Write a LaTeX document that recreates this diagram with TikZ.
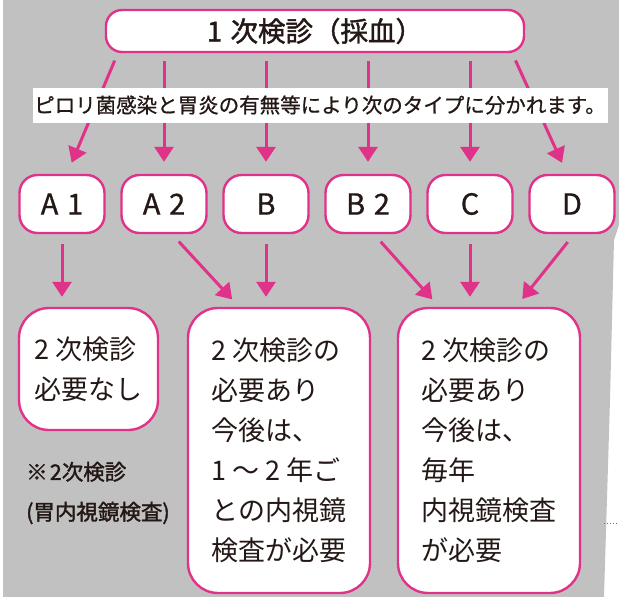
\documentclass[tikz,border=0pt]{standalone}
\usepackage{fontspec}
\setmainfont{Noto Sans CJK JP}
\newfontfamily\heavyjp[FakeBold=1.6]{Noto Sans CJK JP}
\newfontfamily\mediumjp[FakeBold=0.8]{Noto Sans CJK JP}
\usetikzlibrary{arrows.meta,positioning,shapes}
\definecolor{pinkline}{RGB}{224,50,137}
\definecolor{bggray}{RGB}{193,193,193}
\definecolor{inkbrown}{RGB}{35,24,21}

\begin{document}
\begin{tikzpicture}[x=1pt,y=-1pt,>={Triangle[width=19pt,length=15pt]},
    node distance=102pt,
    box/.style={draw=pinkline,line width=2.4pt,fill=white,rounded corners=18pt,
                text=inkbrown,inner sep=0pt},
    typebox/.style={box,minimum width=85pt,minimum height=58pt,
                    font=\mediumjp\fontsize{29}{30}\selectfont},
    resultbox/.style={box,rounded corners=30pt,align=left,
                      font=\fontsize{27}{40}\selectfont},
    arr/.style={->,draw=pinkline,line width=3pt,shorten <=8pt,shorten >=12pt}]

        % background sheet
        \useasboundingbox (0,0) rectangle (619,597);
        \fill[bggray] (3,0) -- (619,0) -- (619,225) -- (614,240) -- (610,400)
              -- (604,597) -- (3,597) -- cycle;
        \draw[pinkline,dotted,line width=1pt] (604,523) -- (619,523);

        \node[box,minimum width=418pt,minimum height=42pt,rounded corners=16pt,
              font=\heavyjp\fontsize{27.5}{28}\selectfont] (kenshin) at (315,31)
              {1\hspace{0.3em}次検診（採血）};

        \node[typebox] (a1) at (62,204) {A\hspace{0.3em}1};
        \node[typebox] (a2) [right of=a1] {A\hspace{0.3em}2};
        \node[typebox] (b)  [right of=a2] {B};
        \node[typebox] (b2) [right of=b]  {B\hspace{0.3em}2};
        \node[typebox] (c)  [right of=b2] {C};
        \node[typebox] (d)  [right of=c]  {D};

        \node[resultbox,minimum width=139pt,minimum height=122pt] (nashi)
              at (88.5,369) {2 次検診\\必要なし};
        \node[resultbox,minimum width=182pt,minimum height=285pt] (futsu)
              at (279,450.5) {2 次検診の\\必要あり\\今後は、\\1 ～ 2 年ご\\との内視鏡\\検査が必要};
        \node[resultbox,minimum width=182pt,minimum height=285pt] (maitoshi)
              at (489,450.5) {2 次検診の\\必要あり\\今後は、\\毎年\\内視鏡検査\\が必要};

        \path ([xshift=13pt]kenshin.south west) edge[arr] ([xshift=5pt]a1.north)
              (kenshin.south -| a2) edge[arr] (a2)
              (kenshin.south -| b)  edge[arr] (b)
              (kenshin.south -| b2) edge[arr] (b2)
              (kenshin.south -| c)  edge[arr] (c)
              ([xshift=-13pt]kenshin.south east) edge[arr] ([xshift=-5pt]d.north);

        \path (a1) edge[arr,shorten <=10pt,shorten >=10pt] (nashi.north -| a1)
              ([xshift=8pt]a2.south) edge[arr,shorten <=10pt,shorten >=10pt]
                    ([xshift=-40pt]futsu.north)
              (b)  edge[arr,shorten <=10pt,shorten >=10pt] (futsu.north -| b)
              ([xshift=6pt]b2.south) edge[arr,shorten <=10pt,shorten >=10pt]
                    ([xshift=-50pt]maitoshi.north)
              (c)  edge[arr,shorten <=10pt,shorten >=10pt] (maitoshi.north -| c)
              ([xshift=2pt]d.south) edge[arr,shorten <=10pt,shorten >=10pt]
                    ([xshift=27pt]maitoshi.north);

        \node[fill=white,minimum width=575pt,minimum height=35pt,inner sep=0pt,
              text=inkbrown,font=\mediumjp\fontsize{20.5}{22}\selectfont] (bunrui)
              at (320,105) {ピロリ菌感染と胃炎の有無等により次のタイプに分かれます。};

        \node[anchor=west,align=left,inner sep=0pt,text=inkbrown,
              font=\heavyjp\fontsize{21.5}{40}\selectfont] (chuui) at (26,493)
              {※\hspace{0.1em}2次検診\\(胃内視鏡検査)};
      \end{tikzpicture}
\end{document}
